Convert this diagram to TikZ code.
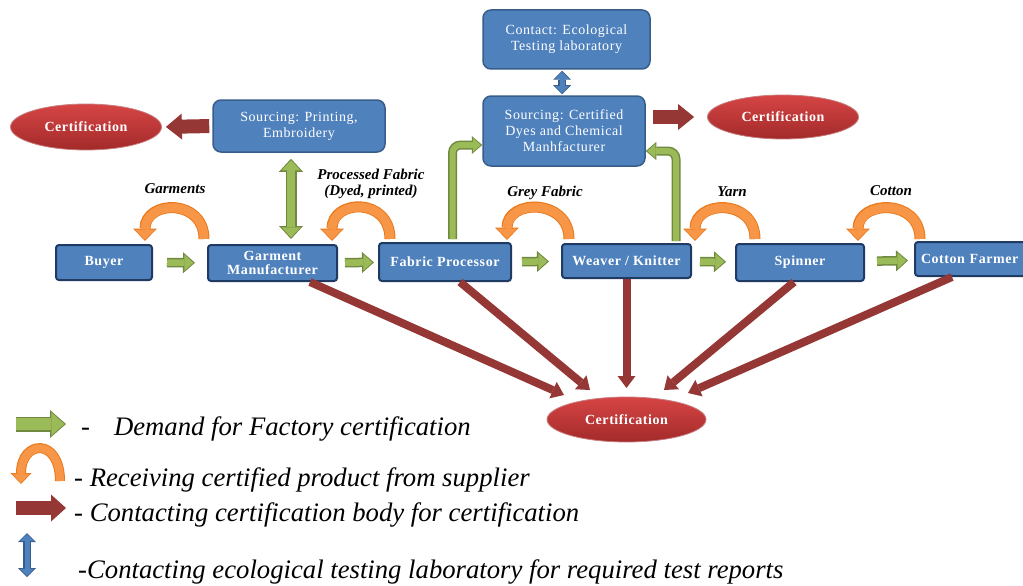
\documentclass[tikz,border=0pt]{standalone}
\usepackage{fontspec}
\setmainfont{Liberation Serif}
\newfontfamily\boxfont[LetterSpace=4]{Liberation Serif}
\usetikzlibrary{arrows.meta,shapes.geometric}
\definecolor{boxfill}{HTML}{4F81BD}
\definecolor{boxline}{HTML}{385D8A}
\definecolor{rowline}{HTML}{1F3B63}
\definecolor{certtop}{HTML}{D64545}
\definecolor{certbot}{HTML}{A32A2A}
\definecolor{redarrow}{HTML}{953735}
\definecolor{gfill}{HTML}{9BBB59}
\definecolor{gline}{HTML}{71893F}
\definecolor{ofill}{HTML}{F79646}
\definecolor{oline}{HTML}{E46C0A}
\tikzset{
  upbox/.style={draw=boxline, line width=1.5pt, fill=boxfill, rounded corners=8pt, text=white,
    align=center, font=\boxfont\fontsize{14}{16}\selectfont, inner sep=0pt},
  rowbox/.style={draw=rowline, line width=2pt, fill=boxfill, rounded corners=3pt, text=white,
    align=center, font=\boxfont\bfseries\fontsize{14}{14}\selectfont, inner sep=0pt},
  cert/.style={ellipse, top color=certtop, bottom color=certbot, draw=certbot!60!white, line width=0.8pt,
    text=white, font=\boxfont\bfseries\fontsize{14}{14}\selectfont, inner sep=0pt},
  lbl/.style={font=\bfseries\itshape\fontsize{15}{16}\selectfont, align=center, inner sep=0pt},
  legtext/.style={anchor=west, font=\itshape\fontsize{26.7}{30}\selectfont, inner sep=0pt},
  garrow/.style={draw=gfill, line width=6.5pt, -{Triangle[length=9pt,width=16pt,line width=0pt,sep=1.6pt]},
    preaction={draw=gline, line width=9.5pt, -{Triangle[length=12pt,width=21pt,line width=0pt]}}},
  gdouble/.style={draw=gfill, line width=8pt,
    {Triangle[length=10pt,width=19pt,line width=0pt,sep=1.6pt]}-{Triangle[length=10pt,width=19pt,line width=0pt,sep=1.6pt]},
    preaction={draw=gline, line width=11pt,
    {Triangle[length=13pt,width=24pt,line width=0pt]}-{Triangle[length=13pt,width=24pt,line width=0pt]}}},
  gelbow/.style={draw=gfill, line width=6pt, rounded corners=8pt,
    -{Triangle[length=8pt,width=14pt,line width=0pt,sep=1.5pt]},
    preaction={draw=gline, line width=9pt, -{Triangle[length=10.5pt,width=18pt,line width=0pt]}}},
  bdouble/.style={draw=boxfill, line width=5pt,
    {Triangle[length=7pt,width=14pt,line width=0pt,sep=1.2pt]}-{Triangle[length=7pt,width=14pt,line width=0pt,sep=1.2pt]},
    preaction={draw=boxline, line width=7.5pt,
    {Triangle[length=9pt,width=18pt,line width=0pt]}-{Triangle[length=9pt,width=18pt,line width=0pt]}}},
  oarrow/.style={draw=ofill, line width=9pt, -{Triangle[length=10pt,width=20pt,line width=0pt,sep=1.4pt]},
    preaction={draw=oline!70!ofill, line width=11pt, -{Triangle[length=12.5pt,width=24pt,line width=0pt]}}},
  rarrow/.style={draw=redarrow, line width=8pt, -{Triangle[length=12pt,width=18pt,line width=0pt]}},
  rbig/.style={draw=redarrow, line width=14pt, -{Triangle[length=16pt,width=26pt,line width=0pt]}},
}
\begin{document}
\begin{tikzpicture}[x=1pt,y=-1pt]
\useasboundingbox[fill=white] (0,0) rectangle (1023,586);

% upper boxes
\node[upbox, minimum width=167pt, minimum height=59pt] (contact) at (566.5,39.5) {Contact: Ecological\\Testing laboratory};
\node[upbox, minimum width=162pt, minimum height=70pt] (src2) at (564,131) {Sourcing: Certified\\Dyes and Chemical\\Manhfacturer};
\node[upbox, minimum width=172pt, minimum height=52pt] (src1) at (299,126) {Sourcing: Printing,\\Embroidery};

% certification ellipses
\node[cert, minimum width=151pt, minimum height=46pt] (cert1) at (86,127) {Certification};
\node[cert, minimum width=151pt, minimum height=44pt] (cert2) at (783,117) {Certification};
\node[cert, minimum width=159pt, minimum height=45pt] (cert3) at (626.5,419.5) {Certification};

% supply chain row
\node[rowbox, minimum width=96pt, minimum height=35pt] (buyer) at (104,262.5) {Buyer};
\node[rowbox, minimum width=129pt, minimum height=36pt] (gm) at (272.5,263) {Garment\\Manufacturer};
\node[rowbox, minimum width=132pt, minimum height=38pt] (fp) at (445,262) {Fabric Processor};
\node[rowbox, minimum width=129pt, minimum height=34pt] (wk) at (626.5,261) {Weaver / Knitter};
\node[rowbox, minimum width=128pt, minimum height=37pt] (sp) at (800,262.5) {Spinner};
\node[rowbox, minimum width=154pt, minimum height=34pt, text width=142pt, align=left] (cf) at (992,259) {Cotton Farmer};

% product labels
\node[lbl] (lgar) at (175,189) {Garments};
\node[lbl] (lproc) at (371,183.5) {Processed Fabric\\(Dyed, printed)};
\node[lbl] (lgrey) at (545,193) {Grey Fabric};
\node[lbl] (lyarn) at (732,192) {Yarn};
\node[lbl] (lcot) at (891,191) {Cotton};

% demand arrows (green)
\draw[garrow, shorten <=14pt, shorten >=12pt] (buyer) -- (gm);
\draw[garrow, shorten <=7pt, shorten >=4pt] (gm) -- (fp);
\draw[garrow, shorten <=10pt, shorten >=12pt] (fp) -- (wk);
\draw[garrow, shorten <=8pt, shorten >=9pt] (wk) -- (sp);
\draw[garrow, shorten <=12pt, shorten >=6pt] (sp) -- (cf);
\draw[gdouble, shorten <=6pt, shorten >=5pt] (src1.south -| 291,0) -- (gm.north -| 291,0);
\draw[gelbow, shorten <=3pt] ([xshift=7.5pt]fp.north) |- ([yshift=-14pt]src2.west);
\draw[gelbow, shorten <=2pt] ([xshift=49.5pt]wk.north) |- ([yshift=-20pt]src2.east);

% receiving arrows (orange)
\draw[oarrow] ([xshift=-3pt,yshift=5pt]gm.north west) to[out=90,in=90,distance=41pt] ([xshift=-8pt,yshift=3pt]buyer.north east);
\draw[oarrow] ([xshift=12pt,yshift=3pt]fp.north west) to[out=90,in=90,distance=42pt] ([xshift=-6pt,yshift=3pt]gm.north east);
\draw[oarrow] ([xshift=8pt,yshift=4pt]wk.north west) to[out=90,in=90,distance=41pt] ([xshift=-5pt,yshift=2pt]fp.north east);
\draw[oarrow] ([xshift=20pt,yshift=4pt]sp.north west) to[out=90,in=90,distance=41pt] ([xshift=3pt,yshift=2pt]wk.north east);
\draw[oarrow] ([xshift=6pt,yshift=2pt]cf.north west) to[out=90,in=90,distance=41pt] ([xshift=-7pt,yshift=2pt]sp.north east);

% lab contact (blue)
\draw[bdouble, shorten <=1pt, shorten >=1pt] (contact.south -| 562,0) -- (src2.north -| 562,0);

% certification contacts (red)
\draw[rbig, shorten <=3pt, shorten >=4pt] (src1.west) -- (cert1.east);
\draw[rbig, shorten <=7pt, shorten >=13pt] (src2.east |- cert2.west) -- (cert2.west);
\draw[rarrow] ([xshift=37.5pt]gm.south) -- ([xshift=-62.5pt,yshift=24.5pt]cert3.center);
\draw[rarrow] ([xshift=15pt]fp.south) -- ([xshift=-36.5pt,yshift=29.5pt]cert3.center);
\draw[rarrow] (wk.south) -- ([yshift=31.5pt]cert3.center);
\draw[rarrow] ([xshift=-6pt]sp.south) -- ([xshift=37.5pt,yshift=29.5pt]cert3.center);
\draw[rarrow] ([xshift=-40pt]cf.south) -- ([xshift=61.5pt,yshift=26.5pt]cert3.center);

% legend
\coordinate (g1) at (16,424); \coordinate (g2) at (66,424);
\draw[draw=gfill, line width=12pt, -{Triangle[length=13pt,width=23pt,line width=0pt,sep=1.6pt]},
  preaction={draw=gline, line width=15pt, -{Triangle[length=16pt,width=28pt,line width=0pt]}}] (g1) -- (g2);
\node[legtext] (t1) at (81,429) {-\hspace{24pt}Demand for Factory certification};
\coordinate (o1) at (60,481); \coordinate (o2) at (21,484);
\draw[draw=ofill, line width=8pt, -{Triangle[length=9pt,width=17pt,line width=0pt,sep=1.2pt]},
  preaction={draw=oline!70!ofill, line width=10pt, -{Triangle[length=11pt,width=21pt,line width=0pt]}}] (o1) to[out=90,in=90,distance=44pt] (o2);
\node[legtext] (t2) at (74,480) {- Receiving certified product from supplier};
\coordinate (r1) at (16,508); \coordinate (r2) at (66,508);
\draw[draw=redarrow, line width=14pt, -{Triangle[length=15pt,width=27pt,line width=0pt]}] (r1) -- (r2);
\node[legtext] (t3) at (74,515) {- Contacting certification body for certification};
\coordinate (b1) at (27,533); \coordinate (b2) at (27,577);
\draw[bdouble] (b1) -- (b2);
\node[legtext] (t4) at (78,572) {-Contacting ecological testing laboratory for required test reports};
\end{tikzpicture}
\end{document}
